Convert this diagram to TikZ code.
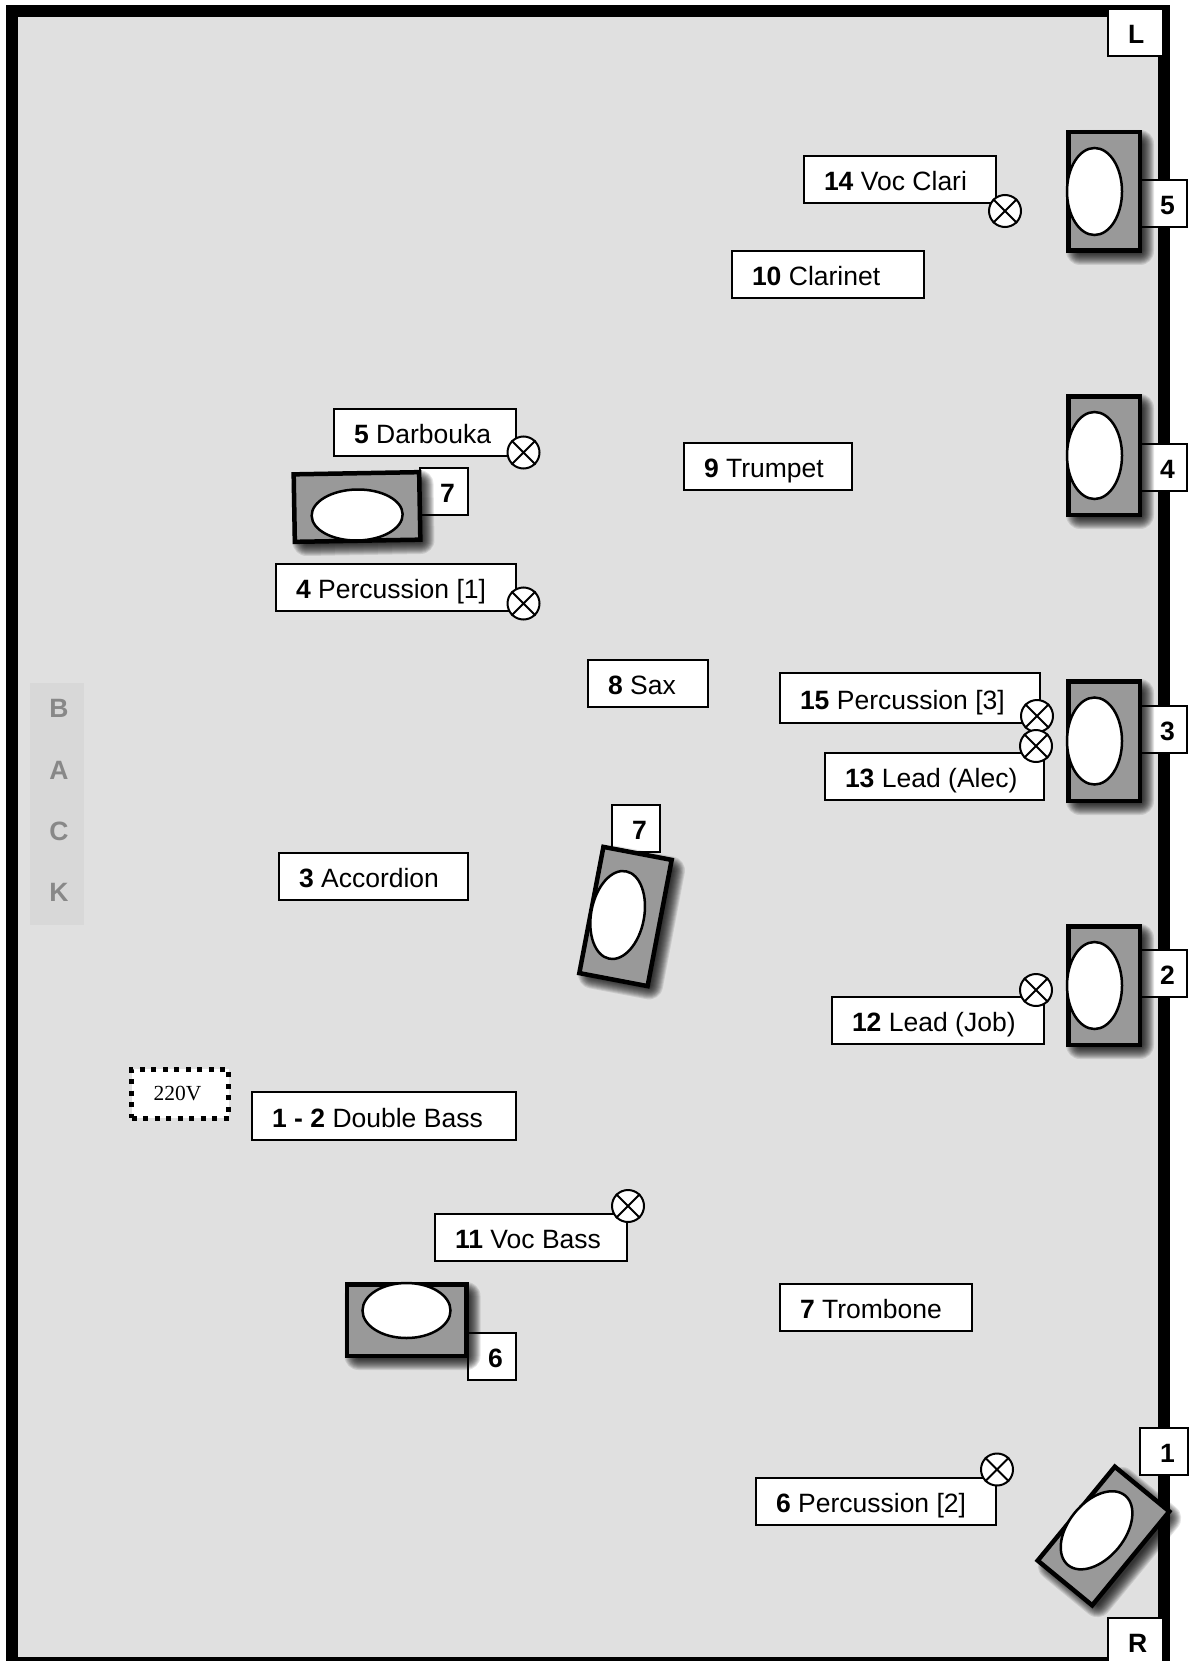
\documentclass[tikz,border=0pt]{standalone}
\usepackage{fontspec}
\usepackage{xcolor}
\setmainfont{Liberation Sans}
\newfontfamily\voltfont{Liberation Serif}
\definecolor{stagegray}{HTML}{E0E0E0}
\definecolor{backgray}{HTML}{D8D8D8}
\definecolor{backtext}{HTML}{888888}
\definecolor{ampgray}{HTML}{999999}
\usetikzlibrary{positioning,calc,shapes.geometric}
\newcommand{\labelstart}{\spaceskip=7.4pt\relax\hspace*{20pt}}

\begin{document}
\begin{tikzpicture}[
    x=1pt,y=-1pt,
    box/.style={draw,fill=white,line width=2pt,anchor=north west,align=left,inner sep=0pt,minimum height=47pt,text height=23pt,text depth=1pt,font=\fontsize{26.5}{30}\selectfont},
    ampcase/.style={draw,fill=ampgray,line width=4.5pt,inner sep=0pt,transform shape},
    ampcone/.style={draw,fill=white,ellipse,line width=2.5pt,inner sep=0pt,transform shape},
    mic/.style={draw,fill=white,circle,line width=2pt,inner sep=0pt,minimum size=32pt},
    backletter/.style={text=backtext,inner sep=0pt,font=\fontsize{26.5}{30}\selectfont\bfseries}
  ]
    \useasboundingbox (0,0) rectangle (1190,1661);
    \draw[line width=12pt,fill=stagegray] (11.5,11) rectangle (1164,1663);
    % back of the stage
    \fill[backgray] (30,683) rectangle (84,925);
    \foreach \c/\y in {B/708,A/770,C/831,K/892.5}{
      \node[backletter] (back\c) at (59,\y) {\c};
    }
    \node[draw,fill=white,line width=5pt,dash pattern=on 5pt off 6.5pt,minimum width=97pt,minimum height=49pt,inner sep=0pt,font=\voltfont\fontsize{21.5}{24}\selectfont] (power) at (180,1093.5) {\raisebox{-2pt}{220V}\hspace*{5pt}};
    % side and monitor numbers
    \foreach \n/\x/\y/\w/\t in {sideL/1107/8/55/L,sideR/1107/1617/55/R,mon5/1139/179/47/5,mon4/1139/443/47/4,mon3/1139/705/47/3,mon2/1139/949/47/2,mon1/1139/1427/48/1,monA/419/467/48/7,monB/611/804/48/7,mon6/467/1332/48/6}{
      \node[box,text width=\w pt] (\n) at (\x,\y) {\hspace*{20pt}\textbf{\t}};
    }
    % players
    \foreach \n/\x/\y/\w/\h/\k/\t in {vocclari/803/155/192/47/14/Voc Clari,clarinet/731/250/192/47/10/Clarinet,darbouka/333/408/182/47/5/Darbouka,percA/275/563/240/47/4/Percussion [1],trumpet/683/442/168/47/9/Trumpet,sax/587/659/120/47/8/Sax,percC/779/672/260/50/15/Percussion [3],alec/824/752/219/47/13/Lead (Alec),accordion/278/852/189/47/3/Accordion,job/831/996/212/47/12/Lead (Job),bass/251/1091/264/48/1 - 2/Double Bass,vocbass/434/1213/192/47/11/Voc Bass,trombone/779/1283/192/47/7/Trombone,percB/755/1477/240/47/6/Percussion [2]}{
      \node[box,text width=\w pt,minimum height=\h pt] (\n) at (\x,\y) {\labelstart\textbf{\k} \t};
    }
    % amps, shadow first
    \foreach \n/\x/\y/\r/\w/\h/\cw/\ch/\co in {five/1104/191.5/0/76/123/55/87/-9.5,four/1104/455.5/0/76/123/55/87/-9.5,three/1104/741/0/76/124/55/87/-9.5,two/1104/985.5/0/76/123/55/87/-9.5,one/1103.5/1536/-39.4/75/126/56/90/-9,topamp/357/507/91/72/130/51/91/-8,midamp/625.5/916.5/-10.8/74/133/53/89/-8,lowamp/406.5/1320/-90/76/124/55/88/-9.5}{
      \begin{scope}[shift={(\x+6,\y+6)},rotate=\r]
        \foreach \s in {0,1,...,12}{
          \fill[black,opacity=.1,rounded corners=\s pt+2pt] ({-\w/2+6-\s},{-\h/2+6-\s}) rectangle ({\w/2-6+\s},{\h/2-6+\s});
        }
      \end{scope}
      \begin{scope}[shift={(\x,\y)},rotate=\r]
        \node[ampcase,minimum width=\w pt-4.5pt,minimum height=\h pt-4.5pt] (amp\n) at (0,0) {};
        \node[ampcone,minimum width=\cw pt,minimum height=\ch pt] (cone\n) at (\co,0) {};
      \end{scope}
    }
    % microphones
    \foreach \n/\x/\y in {mVocclari/1005/211,mDarbouka/523.5/452.5,mPercA/523.5/603.5,mPercC/1037/716,mAlec/1036/746,mJob/1036/990,mVocbass/628/1206,mPercB/997/1469.5}{
      \node[mic] (\n) at (\x,\y) {};
      \draw[line width=2pt] (\n.45) -- (\n.225) (\n.135) -- (\n.315);
    }
  \end{tikzpicture}
\end{document}
